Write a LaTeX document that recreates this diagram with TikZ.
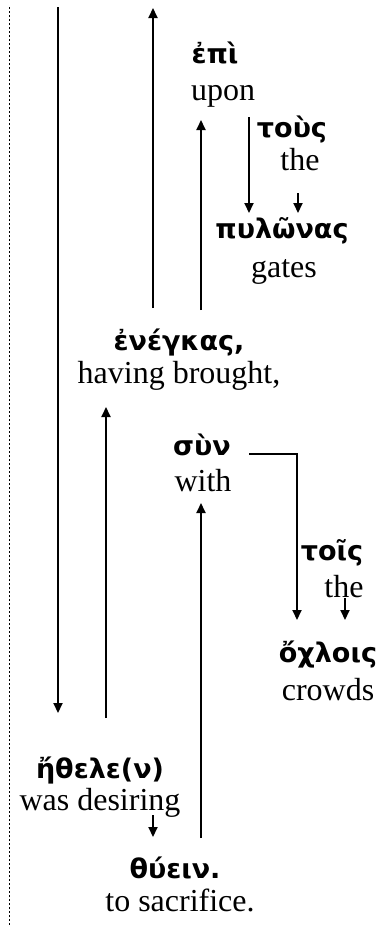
\documentclass[tikz,border=0pt]{standalone}
\usepackage{fontspec}
\setmainfont{Liberation Serif}
\newfontfamily\greekfont{DejaVu Sans}
\usetikzlibrary{arrows.meta}
\begin{document}
\begin{tikzpicture}[x=1pt,y=-1pt,
  gk/.style={anchor=base,inner sep=0pt,font=\greekfont\bfseries\fontsize{27}{32}\selectfont},
  en/.style={anchor=base,inner sep=0pt,font=\fontsize{32}{38}\selectfont},
  link/.style={line width=2pt,-{Triangle[length=10pt,width=9pt]}},
  margin/.style={line width=1.6pt,dash pattern=on 1.6pt off 2.4pt}]
\useasboundingbox (0,0) rectangle (381,926);

% words (Greek above, English gloss below)
\node[gk] (epi)      at (215,63)  {ἐπὶ};
\node[en] (upon)     at (223,100) {upon};
\node[gk] (tous)     at (292,137) {τοὺς};
\node[en] (the1)     at (300,170) {the};
\node[gk] (pylonas)  at (282,238) {πυλῶνας};
\node[en] (gates)    at (284,277) {gates};
\node[gk] (enenkas)  at (179,350) {ἐνέγκας,};
\node[en] (brought)  at (179,383) {having brought,};
\node[gk] (syn)      at (202,455) {σὺν};
\node[en] (with)     at (203,491) {with};
\node[gk] (tois)     at (332,560) {τοῖς};
\node[en] (the2)     at (344,597) {the};
\node[gk] (ochlois)  at (328,662) {ὄχλοις};
\node[en] (crowds)   at (328,700) {crowds};
\node[gk] (ethelen)  at (100,778) {ἤθελε(ν)};
\node[en] (desiring) at (100,810) {was desiring};
\node[gk] (thyein)   at (175,878) {θύειν.};
\node[en] (sacrifice) at (180,911) {to sacrifice.};

% connector end points
\coordinate (m1) at (9.5,7);    \coordinate (m2) at (9.5,926);
\coordinate (a1) at (58,7);     \coordinate (a2) at (58,713);
\coordinate (b1) at (153,308);  \coordinate (b2) at (153,8);
\coordinate (c1) at (201,310);  \coordinate (c2) at (201,120);
\coordinate (d1) at (249,117);  \coordinate (d2) at (249,213);
\coordinate (e1) at (298,193);  \coordinate (e2) at (298,213);
\coordinate (f1) at (106,718);  \coordinate (f2) at (106,407);
\coordinate (g1) at (201,838);  \coordinate (g2) at (201,503);
\coordinate (h1) at (249,454);  \coordinate (h2) at (297,454); \coordinate (h3) at (297,620);
\coordinate (i1) at (345,598);  \coordinate (i2) at (345,620);
\coordinate (j1) at (153,815);  \coordinate (j2) at (153,837);

% left margin rule
\draw[margin] (m1) -- (m2);

% connectors
\draw[link] (a1) -- (a2);
\draw[link] (b1) -- (b2);
\draw[link] (c1) -- (c2);
\draw[link] (d1) -- (d2);
\draw[link] (e1) -- (e2);
\draw[link] (f1) -- (f2);
\draw[link] (g1) -- (g2);
\draw[link] (h1) -- (h2) -- (h3);
\draw[link] (i1) -- (i2);
\draw[link] (j1) -- (j2);
\end{tikzpicture}
\end{document}
